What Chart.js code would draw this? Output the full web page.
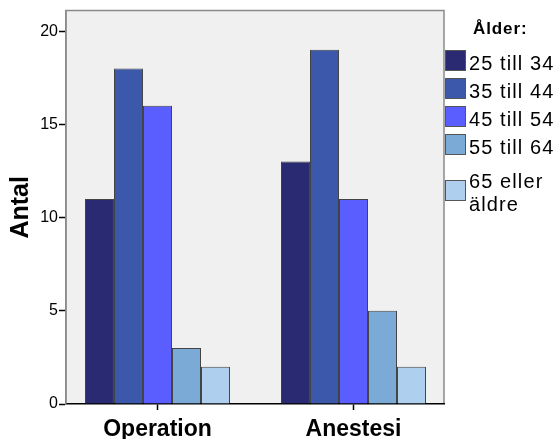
<!DOCTYPE html>
<html>
<head>
<meta charset="utf-8">
<script src="https://cdn.jsdelivr.net/npm/chart.js@4"></script>
<style>
  html, body { margin: 0; padding: 0; background: #fff; }
  #wrap { position: relative; width: 557px; height: 439px; }
  canvas { position: absolute; left: 0; top: 0; }
  .lg { position: absolute; font-family: "Liberation Sans", Arial, sans-serif; color: #000; white-space: nowrap; }
  .lgTitle { font-weight: bold; font-size: 17px; letter-spacing: 0.9px; }
  .lgBox { position: absolute; width: 21px; height: 21px; border: 1px solid #555; box-sizing: border-box; }
  .lgText { font-size: 20px; letter-spacing: 1.1px; line-height: 23px; }
</style>
</head>
<body>
<div id="wrap">
  <canvas id="c" width="557" height="439"></canvas>
  <div id="legend"></div>
</div>
<script>
const categories = ["Operation", "Anestesi"];
const seriesNames = ["25 till 34", "35 till 44", "45 till 54", "55 till 64", "65 eller äldre"];
const legendLabels = [["25 till 34"], ["35 till 44"], ["45 till 54"], ["55 till 64"], ["65 eller", "äldre"]];
const age25to34 = [11, 13];
const age35to44 = [18, 19];
const age45to54 = [16, 11];
const age55to64 = [3, 5];
const age65plus = [2, 2];
const yTicks = [0, 5, 10, 15, 20];
const colors = ["#292A72", "#3C58AB", "#5B5EFE", "#7BAAD6", "#AECFEE"];
const legendTitle = "Ålder:";

const seriesValues = [age25to34, age35to44, age45to54, age55to64, age65plus];

const datasets = seriesValues.map((vals, i) => ({
  label: seriesNames[i],
  data: vals.map((v, j) => ({ x: j, y: v })),
  backgroundColor: colors[i],
  borderColor: "rgba(0,0,0,0.72)",
  borderWidth: 1,
  borderSkipped: "bottom",
  categoryPercentage: 0.74,
  barPercentage: 1.0
}));

const framePlugin = {
  id: "frame",
  beforeDraw(chart) {
    const { ctx, chartArea: a } = chart;
    ctx.save();
    ctx.fillStyle = "#F0F0F0";
    ctx.fillRect(a.left, a.top, a.right - a.left, a.bottom - a.top);
    ctx.strokeStyle = "#8a8a8a";
    ctx.lineWidth = 1.5;
    ctx.beginPath();
    ctx.moveTo(a.left, a.bottom);
    ctx.lineTo(a.left, a.top);
    ctx.lineTo(a.right, a.top);
    ctx.lineTo(a.right, a.bottom);
    ctx.stroke();
    ctx.restore();
  }
};

new Chart(document.getElementById("c"), {
  type: "bar",
  data: { datasets },
  plugins: [framePlugin],
  options: {
    responsive: false,
    animation: false,
    events: [],
    layout: { padding: { top: 10, right: 113, left: 0, bottom: 0 } },
    plugins: { legend: { display: false }, tooltip: { enabled: false } },
    scales: {
      x: {
        type: "linear",
        bounds: "data",
        offset: false,
        min: -0.4668,
        max: 1.4617,
        afterBuildTicks(scale) { scale.ticks = categories.map((c, i) => ({ value: i })); },
        afterFit(scale) { scale.height = 35; },
        ticks: {
          callback: (v) => categories[v] ?? "",
          color: "#000",
          padding: 6,
          maxRotation: 0,
          autoSkip: false,
          font: { family: "Liberation Sans", size: 23, weight: "bold" }
        },
        grid: { display: true, offset: false, drawOnChartArea: false, tickLength: 6, tickColor: "#000", tickWidth: 1.5 },
        border: { display: true, color: "#000", width: 1.5 }
      },
      y: {
        type: "linear",
        bounds: "data",
        min: 0,
        max: 21.1,
        afterBuildTicks(scale) { scale.ticks = yTicks.map(v => ({ value: v })); },
        afterFit(scale) { scale.width = 66; },
        ticks: {
          color: "#000",
          padding: 1,
          font: { family: "Liberation Sans", size: 16 }
        },
        grid: { display: true, drawOnChartArea: false, tickLength: 7, tickColor: "#000", tickWidth: 1.5 },
        border: { display: true, color: "#8a8a8a", width: 1.5 },
        title: {
          display: true,
          text: "Antal",
          color: "#000",
          padding: { top: 9, bottom: 0 },
          font: { family: "Liberation Sans", size: 25, weight: "bold", lineHeight: 1 }
        }
      }
    }
  }
});

// HTML legend
const lg = document.getElementById("legend");
const t = document.createElement("div");
t.className = "lg lgTitle";
t.style.left = "473px"; t.style.top = "19px";
t.textContent = legendTitle;
lg.appendChild(t);
const rowTops = [50, 78, 106, 134, 180];
const textTops = [52, 80, 108, 136, 170];
legendLabels.forEach((lines, i) => {
  const b = document.createElement("div");
  b.className = "lg lgBox";
  b.style.left = "445px"; b.style.top = rowTops[i] + "px";
  b.style.background = colors[i];
  lg.appendChild(b);
  const tx = document.createElement("div");
  tx.className = "lg lgText";
  tx.style.left = "469px"; tx.style.top = textTops[i] + "px";
  tx.innerHTML = lines.join("<br>");
  lg.appendChild(tx);
});
</script>
</body>
</html>
